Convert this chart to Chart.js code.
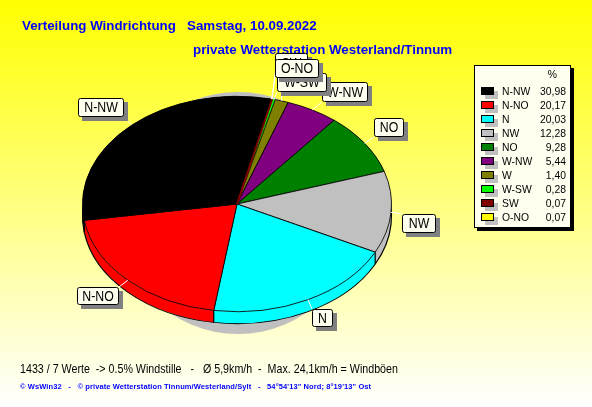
<!DOCTYPE html>
<html lang="de">
<head>
<meta charset="UTF-8">
<title>Verteilung Windrichtung</title>
<script src="https://cdn.jsdelivr.net/npm/chart.js"></script>
<style>
    html, body { margin: 0; padding: 0; overflow: hidden; }
    #wrap { width: 592px; height: 407px; }
</style>
</head>
<body>
<div id="wrap"><canvas id="windChart" width="592" height="407"></canvas></div>
<script>
// Legend order, biggest share first
const directions = ['N-NW', 'N-NO', 'N', 'NW', 'NO', 'W-NW', 'W', 'W-SW', 'SW', 'O-NO'];
const shares = [30.98, 20.17, 20.03, 12.28, 9.28, 5.44, 1.40, 0.28, 0.07, 0.07];
const colors = ['#000000', '#ff0000', '#00ffff', '#c0c0c0', '#008000', '#800080', '#808000', '#00ff00', '#800000', '#ffff00'];

const titleLine1 = 'Verteilung Windrichtung   Samstag, 10.09.2022';
const titleLine2 = 'private Wetterstation Westerland/Tinnum';
const statsLine = '1433 / 7 Werte  -> 0.5% Windstille   -   Ø 5,9km/h  -  Max. 24,1km/h = Windböen';
const creditLine = '© WsWin32   -   © private Wetterstation Tinnum/Westerland/Sylt   -   54°54\'13" Nord; 8°19\'13" Ost';

// callout boxes: x, y, w, h. Drawn in this order so the top ones overlap like the original
const calloutBoxes = {
    'N-NW': [78, 98, 46, 19],
    'N-NO': [77, 287, 42, 18],
    'N': [312, 309, 21, 18],
    'NW': [402, 214, 34, 19],
    'NO': [374, 118, 30, 19],
    'W-NW': [322, 82, 46, 20],
    'W': [279, 66, 30, 20],
    'W-SW': [277, 73, 50, 19],
    'SW': [275, 53, 33, 20],
    'O-NO': [275, 59, 44, 19]
};

const squash = 0.697;   // pie is tilted, circle -> ellipse
const depth = 12;       // wall height in px

// the pie runs counter clockwise from N-NW, Chart.js only goes clockwise
const pieLabels = directions.slice().reverse();
const pieValues = shares.slice().reverse();
const pieColors = colors.slice().reverse();
// slivers would vanish under a black outline
const pieBorders = pieValues.map((v, i) => v < 0.5 ? pieColors[i] : '#000000');

function tilt(ctx, arc) {
    ctx.translate(arc.x, arc.y);
    ctx.scale(1, squash);
    ctx.translate(-arc.x, -arc.y);
}

// the old screen font is narrower than Liberation, so squeeze the text a bit
function narrowText(ctx, text, x, y, sx) {
    ctx.save();
    ctx.translate(x, y);
    ctx.scale(sx, 1);
    ctx.fillText(text, 0, 0);
    ctx.restore();
}

const backdrop = {
    id: 'backdrop',
    beforeDraw(chart) {
        const ctx = chart.ctx;
        const g = ctx.createLinearGradient(0, 0, 0, chart.height);
        g.addColorStop(0, '#ffff00');
        g.addColorStop(1, '#ffffff');
        ctx.fillStyle = g;
        ctx.fillRect(0, 0, chart.width, chart.height);

        ctx.fillStyle = '#0000ff';
        ctx.textBaseline = 'alphabetic';
        ctx.textAlign = 'left';
        ctx.font = 'bold 13.33px "Liberation Sans"';
        ctx.fillText(titleLine1, 22, 30);
        ctx.fillText(titleLine2, 193, 54);

        ctx.fillStyle = '#000000';
        ctx.font = '12px "Liberation Sans"';
        narrowText(ctx, statsLine, 20, 373, 0.89);
        ctx.fillStyle = '#0000ff';
        ctx.font = 'bold 7.5px "Liberation Sans"';
        ctx.letterSpacing = '0.1px';
        ctx.fillText(creditLine, 20, 389);
        ctx.letterSpacing = '0px';
    }
};

// shadow and side walls go under the slices
const pie3d = {
    id: 'pie3d',
    beforeDatasetsDraw(chart) {
        const ctx = chart.ctx;
        const arcs = chart.getDatasetMeta(0).data;
        const first = arcs[0];
        const drop = depth / squash;

        // the shadow is not tilted, it shows as a round disc behind the pie
        ctx.fillStyle = '#c0c0c0';
        ctx.beginPath();
        ctx.arc(first.x + 1, first.y + 9, 121, 0, Math.PI * 2);
        ctx.fill();

        ctx.save();
        tilt(ctx, first);
        arcs.forEach((arc, i) => {
            ctx.fillStyle = pieColors[i];
            ctx.beginPath();
            ctx.arc(arc.x, arc.y, arc.outerRadius, arc.startAngle, arc.endAngle);
            ctx.arc(arc.x, arc.y + drop, arc.outerRadius, arc.endAngle, arc.startAngle, true);
            ctx.closePath();
            ctx.fill();
        });
        ctx.strokeStyle = '#000000';
        ctx.lineWidth = 1.2;
        arcs.forEach(arc => {
            ctx.beginPath();
            ctx.arc(arc.x, arc.y + drop, arc.outerRadius, arc.startAngle, arc.endAngle);
            ctx.stroke();
            const ex = arc.x + Math.cos(arc.endAngle) * arc.outerRadius;
            const ey = arc.y + Math.sin(arc.endAngle) * arc.outerRadius;
            if (Math.sin(arc.endAngle) > 0) {
                ctx.beginPath();
                ctx.moveTo(ex, ey);
                ctx.lineTo(ex, ey + drop);
                ctx.stroke();
            }
        });

        // tilt for the slices themselves, restored in afterDatasetsDraw
        ctx.restore();
        ctx.save();
        tilt(ctx, first);
    },
    afterDatasetsDraw(chart) {
        const ctx = chart.ctx;
        // the SW sliver is too thin to see otherwise, the original paints it as a line
        const arc = chart.getDatasetMeta(0).data[pieLabels.indexOf('SW')];
        const mid = (arc.startAngle + arc.endAngle) / 2;
        ctx.strokeStyle = pieColors[pieLabels.indexOf('SW')];
        ctx.lineWidth = 2;
        ctx.beginPath();
        ctx.moveTo(arc.x, arc.y);
        ctx.lineTo(arc.x + Math.cos(mid) * arc.outerRadius, arc.y + Math.sin(mid) * arc.outerRadius);
        ctx.stroke();
        ctx.restore();
    }
};

function drawCallout(ctx, text, anchor) {
    const [x, y, w, h] = calloutBoxes[text];
    ctx.strokeStyle = '#ffffff';
    ctx.lineWidth = 1;
    ctx.beginPath();
    ctx.moveTo(anchor.x, anchor.y);
    ctx.lineTo(Math.min(Math.max(anchor.x, x), x + w), Math.min(Math.max(anchor.y, y), y + h));
    ctx.stroke();

    ctx.fillStyle = '#808080';
    ctx.fillRect(x + 4, y + 4, w, h);
    ctx.fillStyle = '#fffff0';
    ctx.strokeStyle = '#000000';
    ctx.beginPath();
    ctx.roundRect(x + 0.5, y + 0.5, w - 1, h - 1, 2);
    ctx.fill();
    ctx.stroke();

    ctx.fillStyle = '#000000';
    ctx.font = '14px "Liberation Sans"';
    ctx.textAlign = 'center';
    ctx.textBaseline = 'middle';
    narrowText(ctx, text, x + w / 2, y + h / 2 + 1, 0.88);
}

const callouts = {
    id: 'callouts',
    afterDraw(chart) {
        const ctx = chart.ctx;
        const arcs = chart.getDatasetMeta(0).data;
        ctx.save();
        directions.forEach(name => {
            const arc = arcs[pieLabels.indexOf(name)];
            const mid = (arc.startAngle + arc.endAngle) / 2;
            drawCallout(ctx, name, {
                x: arc.x + Math.cos(mid) * arc.outerRadius,
                y: arc.y + Math.sin(mid) * arc.outerRadius * squash
            });
        });
        ctx.restore();
    }
};

const legendBox = {
    id: 'legendBox',
    afterDraw(chart) {
        const ctx = chart.ctx;
        ctx.save();
        ctx.fillStyle = '#000000';
        ctx.fillRect(477, 68, 97, 163);
        ctx.fillStyle = '#fffff0';
        ctx.fillRect(474, 65, 97, 163);
        ctx.strokeStyle = '#000000';
        ctx.strokeRect(474.5, 65.5, 96, 162);

        ctx.font = '11.5px "Liberation Sans"';
        ctx.textBaseline = 'middle';
        ctx.fillStyle = '#000000';
        ctx.textAlign = 'right';
        narrowText(ctx, '%', 557, 75, 0.9);
        directions.forEach((name, i) => {
            const y = 91 + i * 14;
            ctx.fillStyle = '#c0c0c0';
            ctx.fillRect(485, y, 13, 8);
            ctx.fillStyle = colors[i];
            ctx.fillRect(481, y - 4, 13, 8);
            ctx.strokeStyle = '#000000';
            ctx.strokeRect(481.5, y - 3.5, 12, 7);
            ctx.fillStyle = '#000000';
            ctx.textAlign = 'left';
            narrowText(ctx, name, 502, y + 0.5, 0.9);
            ctx.textAlign = 'right';
            narrowText(ctx, shares[i].toFixed(2).replace('.', ','), 566, y + 0.5, 0.9);
        });
        ctx.restore();
    }
};

new Chart(document.getElementById('windChart'), {
    type: 'pie',
    data: {
        labels: pieLabels,
        datasets: [{
            data: pieValues,
            backgroundColor: pieColors,
            borderColor: pieBorders,
            borderWidth: 1
        }]
    },
    options: {
        responsive: false,
        animation: false,
        rotation: 12.8,
        layout: { padding: { left: 82, right: 200, top: 49, bottom: 48 } },
        plugins: {
            legend: { display: false },
            tooltip: { enabled: false }
        }
    },
    plugins: [backdrop, pie3d, callouts, legendBox]
});
</script>
</body>
</html>
